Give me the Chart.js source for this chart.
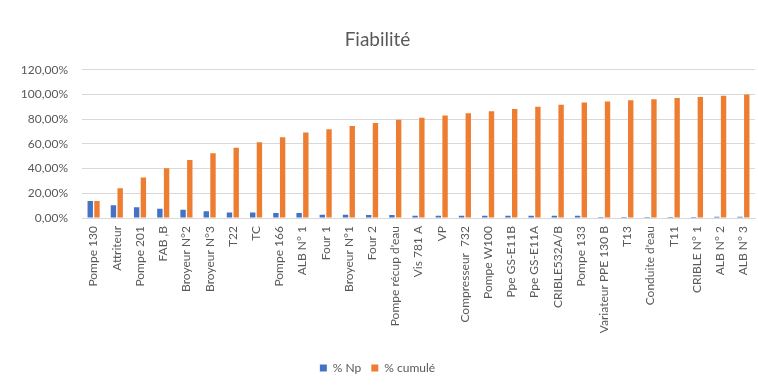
<!DOCTYPE html>
<html>
<head>
<meta charset="utf-8">
<script src="https://cdn.jsdelivr.net/npm/chart.js@4/dist/chart.umd.min.js"></script>
<style>
  html, body { margin: 0; padding: 0; background: #fff; }
  #wrap { width: 758px; height: 385px; position: relative; }
</style>
</head>
<body>
<div id="wrap"><canvas id="fiab"></canvas></div>
<script>
// Pareto de fiabilité : part de chaque équipement et cumul
const equipements = [
  'Pompe 130', 'Attriteur', 'Pompe 201', 'FAB ,B', 'Broyeur N°2', 'Broyeur N°3',
  'T22', 'TC', 'Pompe 166', 'ALB N° 1', 'Four 1', 'Broyeur N°1', 'Four 2',
  "Pompe récup d'eau", 'Vis 781 A', 'VP', 'Compresseur  732', 'Pompe W100',
  'Ppe GS-E11B', 'Ppe GS-E11A', 'CRIBLE532A/B', 'Pompe 133', 'Variateur PPE 130 B',
  'T13', "Conduite d'eau", 'T11', 'CRIBLE N° 1', 'ALB N° 2', 'ALB N° 3'
]
const pctNp = [
  13.8, 10.3, 8.7, 7.5, 6.7, 5.4, 4.5, 4.4, 4.0, 4.0,
  2.6, 2.6, 2.5, 2.5, 1.75, 1.75, 1.75, 1.75, 1.75, 1.75,
  1.75, 1.75, 0.9, 0.9, 0.9, 0.9, 0.9, 1.0, 1.0
]
const pctCumul = [
  13.8, 24.1, 32.8, 40.3, 47.0, 52.4, 56.9, 61.3, 65.3, 69.3,
  71.9, 74.5, 77.0, 79.5, 81.25, 83.0, 84.75, 86.5, 88.25, 90.0,
  91.75, 93.5, 94.4, 95.3, 96.2, 97.1, 98.0, 99.0, 100.0
]
const yTicks = [0, 20, 40, 60, 80, 100, 120]

const grey = '#595959'
const font = 'Lato, "Open Sans", sans-serif'

function fmtPct (v) {
  return v.toFixed(2).replace('.', ',') + '%'
}

new Chart(document.getElementById('fiab'), {
  type: 'bar',
  data: {
    labels: equipements,
    datasets: [
      { label: '% Np', data: pctNp, backgroundColor: '#4472C4' },
      { label: '% cumulé', data: pctCumul, backgroundColor: '#ED7D31' }
    ]
  },
  options: {
    responsive: true,
    maintainAspectRatio: false,
    animation: false,
    categoryPercentage: 0.58,
    barPercentage: 0.8,
    layout: { padding: { left: 0, right: 3, top: 16, bottom: 1 } },
    plugins: {
      title: {
        display: true,
        text: 'Fiabilité',
        color: grey,
        font: { family: font, size: 19, weight: 'normal' },
        padding: { top: 12, bottom: 19 }
      },
      legend: {
        position: 'bottom',
        labels: {
          color: grey,
          font: { family: font, size: 12 },
          boxWidth: 7,
          boxHeight: 7,
          padding: 10
        }
      },
      tooltip: { enabled: false }
    },
    scales: {
      x: {
        grid: { display: false, drawTicks: false },
        border: { color: '#d9d9d9' },
        afterFit: axis => {
          axis.height = 134
          axis.paddingLeft = 0
          axis.paddingRight = 0
        },
        ticks: {
          color: grey,
          font: { family: font, size: 12 },
          minRotation: 90,
          maxRotation: 90,
          autoSkip: false,
          padding: 8
        }
      },
      y: {
        min: 0,
        max: 120,
        afterBuildTicks: axis => { axis.ticks = yTicks.map(v => ({ value: v })) },
        afterFit: axis => { axis.width = 82 },
        grid: { color: '#d9d9d9', drawTicks: false },
        border: { display: false },
        ticks: {
          color: grey,
          font: { family: font, size: 12 },
          padding: 14,
          callback: v => fmtPct(v)
        }
      }
    }
  }
})
</script>
</body>
</html>
